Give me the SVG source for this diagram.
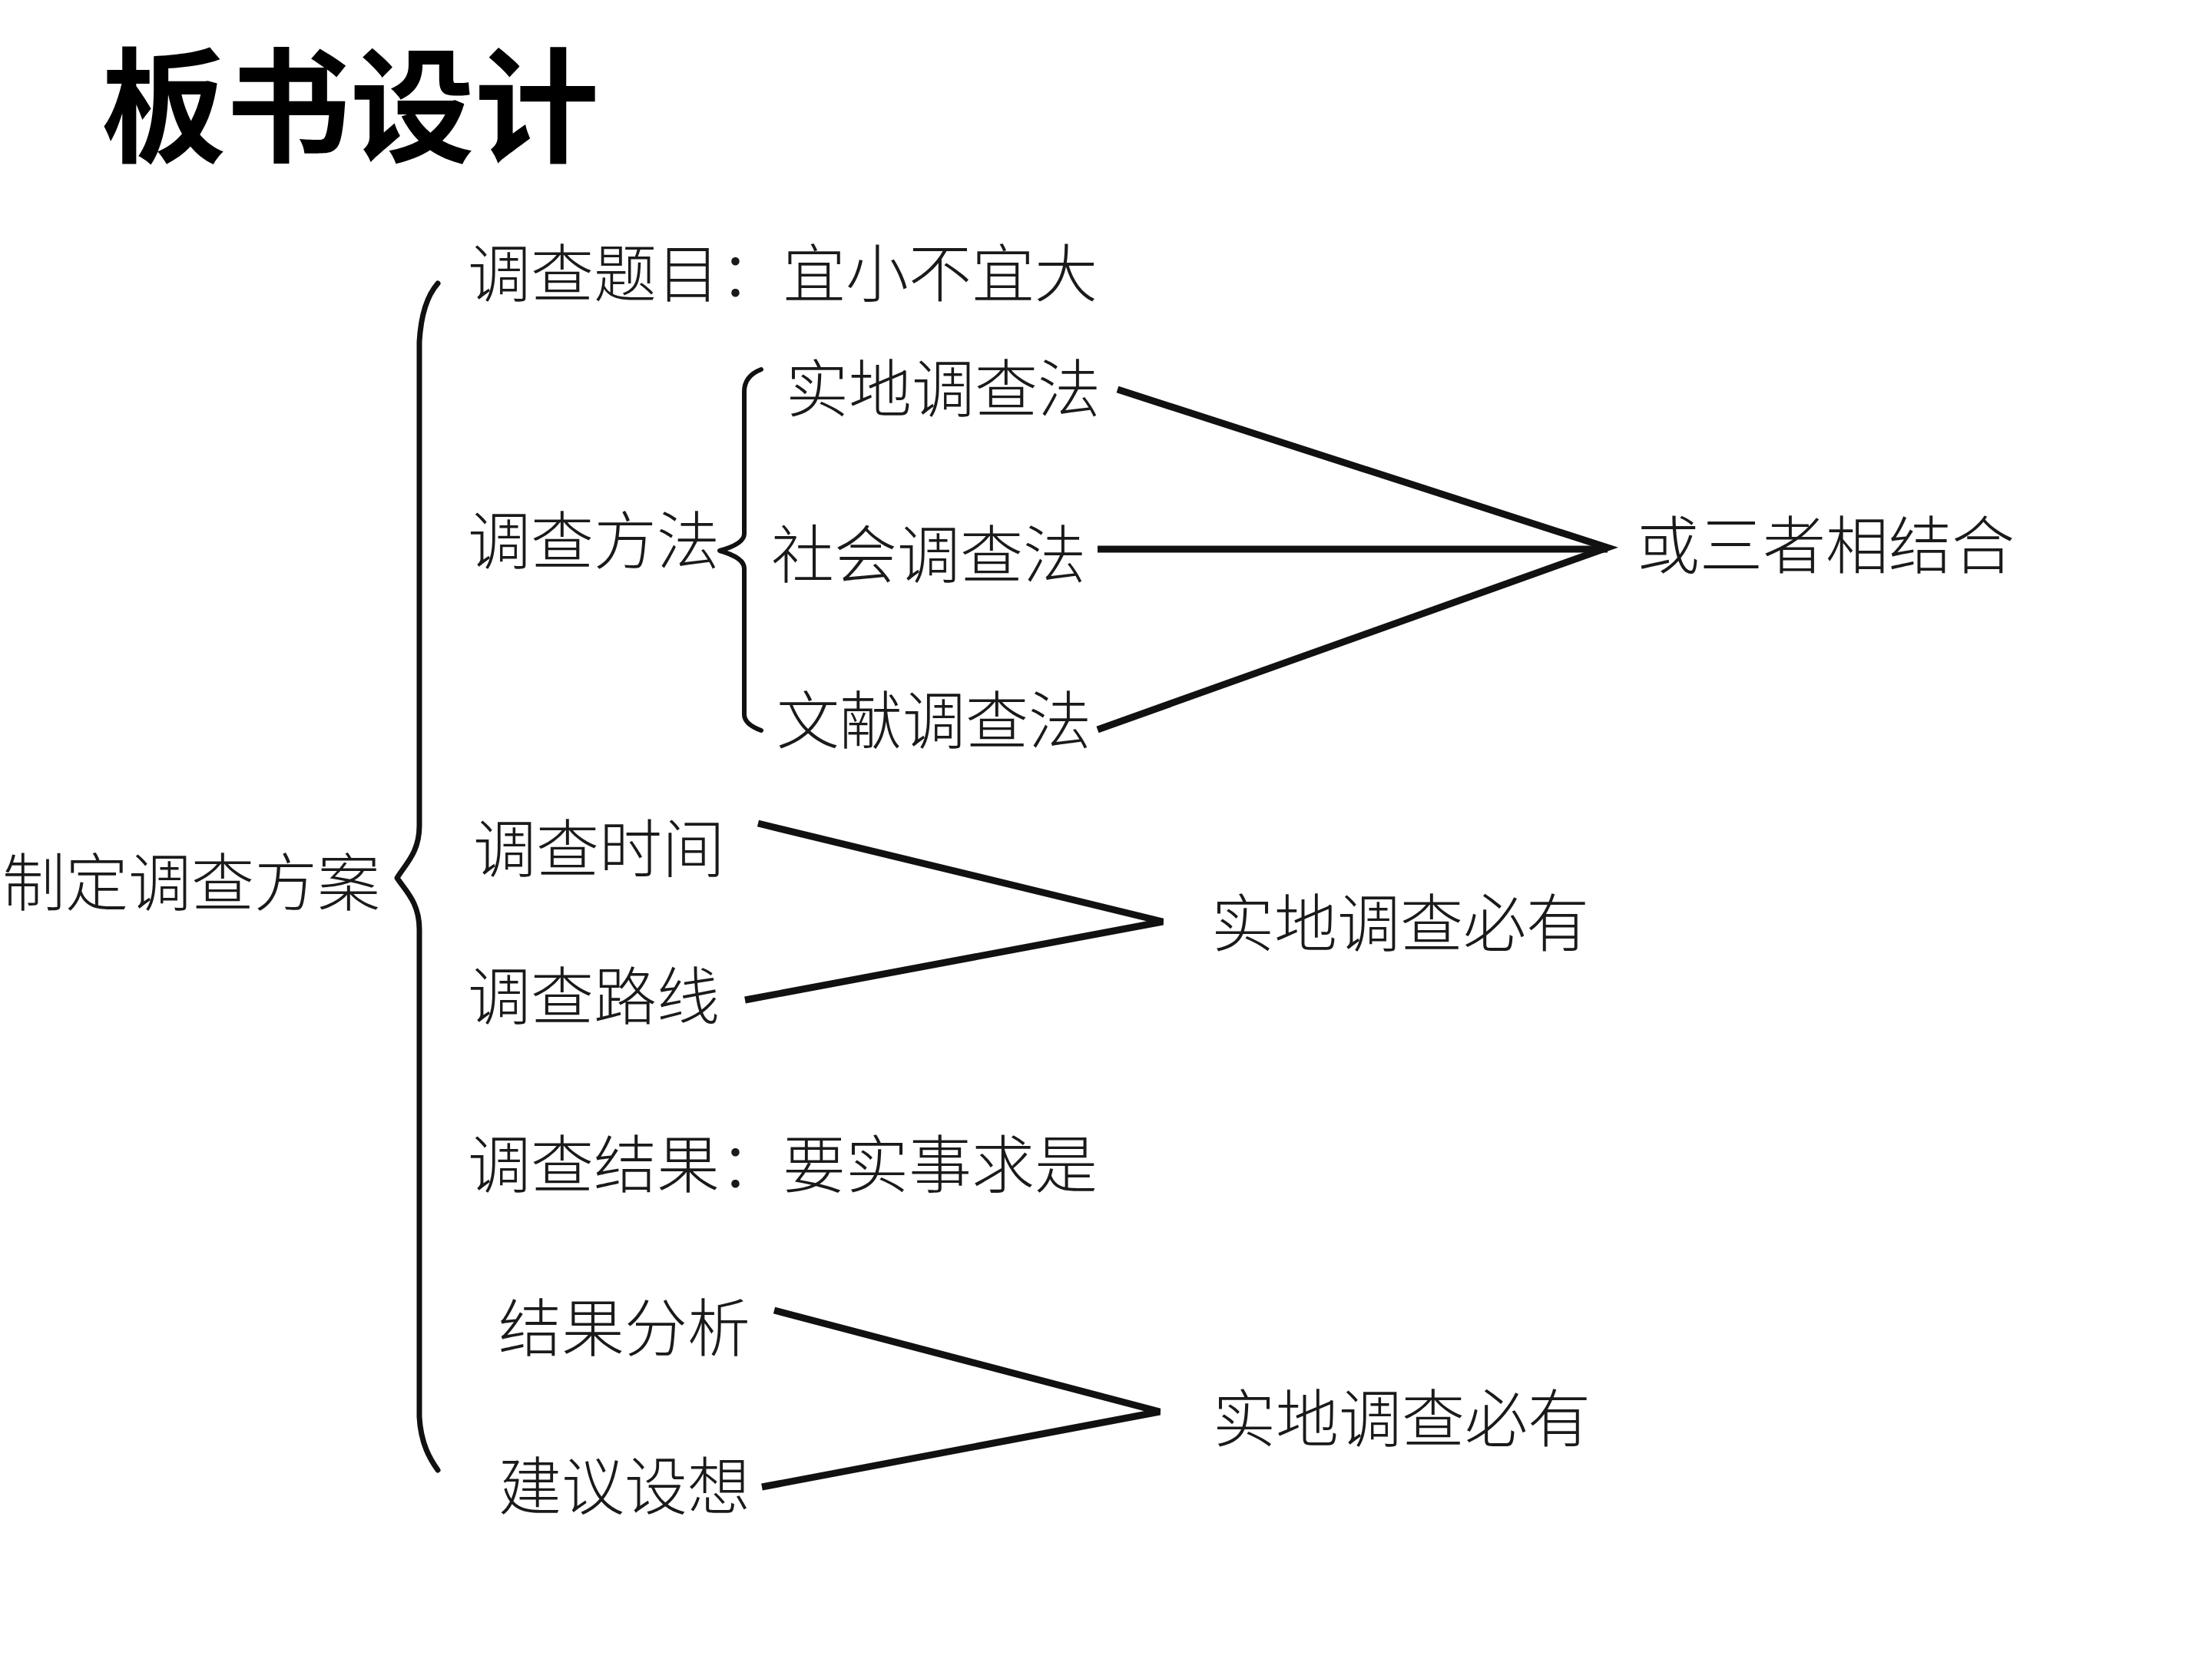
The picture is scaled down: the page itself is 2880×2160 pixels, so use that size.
<svg xmlns="http://www.w3.org/2000/svg" width="2880" height="2160" viewBox="0 0 2880 2160">
<style>
.t{font-family:"Noto Sans CJK SC","Noto Sans",sans-serif;font-size:82px;font-weight:300;fill:#1a1a1a}
.title{font-family:"Noto Sans CJK SC","Noto Sans",sans-serif;font-size:162px;font-weight:700;fill:#000}
.br{fill:none;stroke:#111;stroke-linecap:round;stroke-linejoin:round}
.ln{fill:none;stroke:#111;stroke-width:9;stroke-linejoin:miter;stroke-linecap:butt}
</style>
<rect width="2880" height="2160" fill="#fff"/>
<g id="title"><text class="title" x="132" y="199">板书设计</text></g>
<g id="root"><text class="t" x="3" y="1179">制定调查方案</text></g>
<g id="topic"><text class="t" x="609" y="386">调查题目：宜小不宜大</text></g>
<g id="method"><text class="t" x="609" y="734">调查方法</text></g>
<g id="field"><text class="t" x="1023" y="536">实地调查法</text></g>
<g id="social"><text class="t" x="1004" y="752">社会调查法</text></g>
<g id="literature"><text class="t" x="1011" y="968">文献调查法</text></g>
<g id="combine"><text class="t" x="2131" y="740">或三者相结合</text></g>
<g id="time"><text class="t" x="616" y="1135">调查时间</text></g>
<g id="route"><text class="t" x="609" y="1327">调查路线</text></g>
<g id="must1"><text class="t" x="1577" y="1232">实地调查必有</text></g>
<g id="result"><text class="t" x="609" y="1546">调查结果：要实事求是</text></g>
<g id="analysis"><text class="t" x="649" y="1759">结果分析</text></g>
<g id="suggest"><text class="t" x="649" y="1965">建议设想</text></g>
<g id="must2"><text class="t" x="1579" y="1877">实地调查必有</text></g>
<g id="connectors">
<path class="br" stroke-width="7" d="M570,369 C556,385 548,410 546,445 L546,1075 C546,1110 528,1125 517,1143 C528,1160 546,1175 546,1210 L546,1845 C548,1880 560,1900 570,1914"/>
<path class="br" stroke-width="6" d="M991,481 C978,486 969,495 969,510 L969,695 C969,705 955,712 937,717 C955,722 969,730 969,740 L969,930 C969,940 980,947 991,951"/>
<polyline class="ln" points="1455,507 2093,713 1429,950"/>
<line class="ln" x1="1429" y1="715" x2="2093" y2="715"/>
<polyline class="ln" points="987,1072 1514,1200 970,1302"/>
<polyline class="ln" points="1008,1706 1510,1838 992,1936"/>
</g>
</svg>
